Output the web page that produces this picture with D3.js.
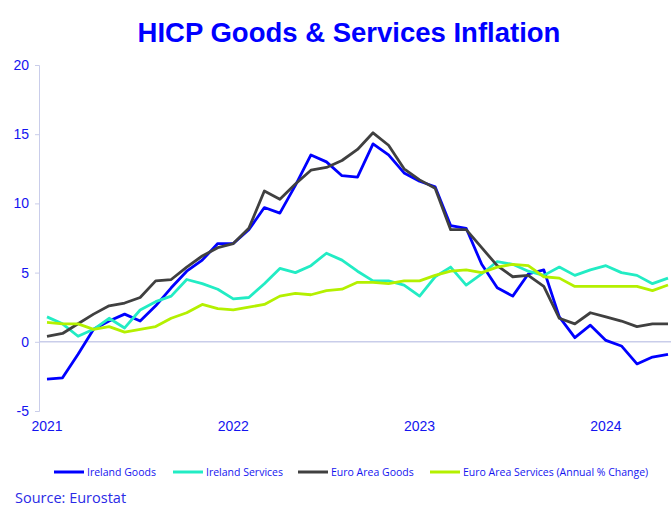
<!DOCTYPE html>
<html><head><meta charset="utf-8">
<script src="https://cdn.jsdelivr.net/npm/d3@7/dist/d3.min.js"></script>
<style>body{margin:0;background:#fff}svg{display:block}</style>
</head><body>
<svg id="c" width="671" height="507"></svg>
<script>
const months = ["2021-01","2021-02","2021-03","2021-04","2021-05","2021-06","2021-07","2021-08","2021-09","2021-10","2021-11","2021-12",
"2022-01","2022-02","2022-03","2022-04","2022-05","2022-06","2022-07","2022-08","2022-09","2022-10","2022-11","2022-12",
"2023-01","2023-02","2023-03","2023-04","2023-05","2023-06","2023-07","2023-08","2023-09","2023-10","2023-11","2023-12",
"2024-01","2024-02","2024-03","2024-04","2024-05"];
const yearTicks = ["2021","2022","2023","2024"];
const yTicks = [-5,0,5,10,15,20];
const irelandGoods = [-2.7,-2.6,-0.9,0.9,1.5,2.0,1.5,2.6,3.9,5.1,5.9,7.1,7.1,8.1,9.7,9.3,11.3,13.5,13.0,12.0,11.9,14.3,13.5,12.2,11.6,11.2,8.4,8.2,5.6,3.9,3.3,4.9,5.2,1.8,0.3,1.2,0.1,-0.3,-1.6,-1.1,-0.9];
const irelandServices = [1.8,1.3,0.4,0.9,1.7,1.0,2.3,2.9,3.3,4.5,4.2,3.8,3.1,3.2,4.2,5.3,5.0,5.5,6.4,5.9,5.1,4.4,4.4,4.1,3.3,4.7,5.4,4.1,4.9,5.8,5.6,5.1,4.8,5.4,4.8,5.2,5.5,5.0,4.8,4.2,4.6];
const euroGoods = [0.4,0.6,1.3,2.0,2.6,2.8,3.2,4.4,4.5,5.4,6.2,6.8,7.1,8.2,10.9,10.3,11.4,12.4,12.6,13.1,13.9,15.1,14.2,12.5,11.7,11.1,8.1,8.1,6.8,5.5,4.7,4.8,4.0,1.7,1.3,2.1,1.8,1.5,1.1,1.3,1.3];
const euroServices = [1.4,1.3,1.3,0.9,1.1,0.7,0.9,1.1,1.7,2.1,2.7,2.4,2.3,2.5,2.7,3.3,3.5,3.4,3.7,3.8,4.3,4.3,4.2,4.4,4.4,4.8,5.1,5.2,5.0,5.4,5.6,5.5,4.7,4.6,4.0,4.0,4.0,4.0,4.0,3.7,4.1];
const seriesNames = ["Ireland Goods","Ireland Services","Euro Area Goods","Euro Area Services (Annual % Change)"];
const seriesColors = ["#0000ff","#22ecc4","#404040","#b4f000"];
const seriesData = [irelandGoods, irelandServices, euroGoods, euroServices];

const svg = d3.select("#c");
const x = d3.scalePoint().domain(months).range([47, 668]);
const y = d3.scaleLinear().domain([-5, 20]).range([411, 65]);
const axisCol = "#c9cdea";
const txtCol = "#1414f0";

svg.append("text").attr("x", 349).attr("y", 42).attr("text-anchor", "middle")
  .attr("font-family", "Liberation Sans, Arial, sans-serif").attr("font-weight", "bold")
  .attr("font-size", 27.5).attr("fill", "#0000ff").text("HICP Goods & Services Inflation");

// y axis
const yAxis = svg.append("g").attr("transform", "translate(39,0)")
  .call(d3.axisLeft(y).tickValues(yTicks).tickSize(4).tickPadding(6).tickFormat(d => String(d)));
yAxis.select(".domain").attr("stroke", axisCol);
yAxis.selectAll(".tick line").attr("stroke", axisCol);
yAxis.selectAll("text").attr("font-family", "Liberation Sans, Arial, sans-serif").attr("font-size", 14).attr("fill", txtCol);

// zero line
svg.append("line").attr("x1", 39).attr("x2", 671).attr("y1", y(0)).attr("y2", y(0))
  .attr("stroke", axisCol).attr("stroke-width", 1.5);

// x year labels
svg.append("g").selectAll("text").data(yearTicks).join("text")
  .attr("x", d => x(d + "-01")).attr("y", 431).attr("text-anchor", "middle")
  .attr("font-family", "Liberation Sans, Arial, sans-serif").attr("font-size", 14).attr("fill", txtCol)
  .text(d => d);

const line = d3.line().x((d, i) => x(months[i])).y(d => y(d));
seriesData.forEach((s, k) => {
  svg.append("path").datum(s).attr("d", line).attr("fill", "none")
    .attr("stroke", seriesColors[k]).attr("stroke-width", 2.8).attr("stroke-linejoin", "round");
});

// legend
const legX = [54, 173, 298, 430];
const leg = svg.append("g");
seriesNames.forEach((n, k) => {
  leg.append("line").attr("x1", legX[k]).attr("x2", legX[k] + 30).attr("y1", 472).attr("y2", 472)
    .attr("stroke", seriesColors[k]).attr("stroke-width", 3);
  leg.append("text").attr("x", legX[k] + 33).attr("y", 476)
    .attr("font-family", "Open Sans, Noto Sans, sans-serif").attr("font-size", 10.5).attr("fill", txtCol).text(n);
});

svg.append("text").attr("x", 15).attr("y", 503)
  .attr("font-family", "Open Sans, Noto Sans, sans-serif").attr("font-size", 14.5).attr("fill", "#2a2ae6")
  .text("Source: Eurostat");
</script>
</body></html>
